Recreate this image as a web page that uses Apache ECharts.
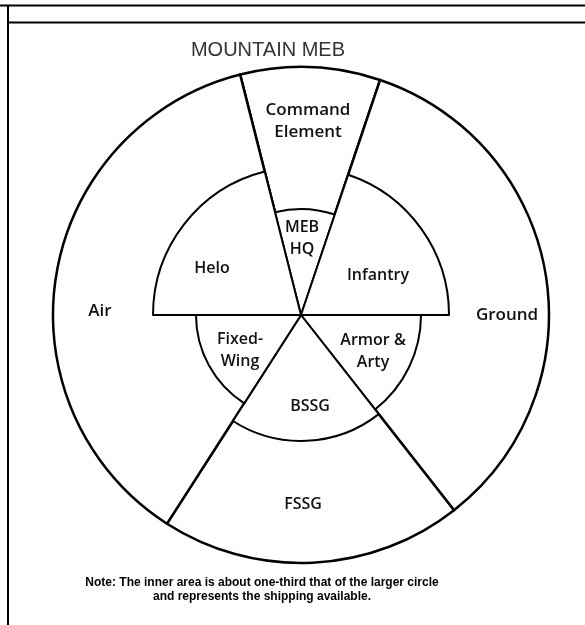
<!DOCTYPE html>
<html>
<head>
<meta charset="utf-8">
<script src="https://cdn.jsdelivr.net/npm/echarts@6/dist/echarts.min.js"></script>
<style>
  html, body { margin: 0; padding: 0; background: #fff; }
  #main { width: 585px; height: 625px; }
</style>
</head>
<body>
<div id="main"></div>
<script>
// outer ring: sector angles in degrees, clockwise from the left edge of the command wedge
var outerNames = ['Command Element', 'Ground', 'FSSG', 'Air'];
var outerAngles = [32.8, 123.3, 70.8, 133.1];

// inner area ("shipping available"): angles and radius (px) of each piece
var innerNames = ['MEB HQ', 'Infantry', 'Armor & Arty', 'BSSG', 'Fixed-Wing', 'Helo'];
var innerAngles = [32.8, 71.4, 51.9, 70.8, 57.3, 75.8];
var innerRadii = [106, 148, 120, 126, 105, 148];

var titleText = 'MOUNTAIN MEB';
var noteText = 'Note: The inner area is about one-third that of the larger circle\nand represents the shipping available.';

// layout
var hub = [301, 315];
var outerRadius = 248;
var startAngle = 104.2;

var labelText = {
  'Command Element': 'Command\nElement',
  'MEB HQ': 'MEB\nHQ',
  'Armor & Arty': 'Armor &\nArty',
  'Fixed-Wing': 'Fixed-\nWing'
};
var labelAt = {
  'Command Element': [308, 121],
  'Ground': [507, 315],
  'FSSG': [303, 504],
  'Air': [100, 311],
  'MEB HQ': [302, 238],
  'Infantry': [378, 275],
  'Armor & Arty': [373, 351],
  'BSSG': [310, 406],
  'Fixed-Wing': [240, 350],
  'Helo': [212, 268]
};
var bigLabels = { 'Command Element': 1, 'Ground': 1, 'Air': 1 };

var font = '"Open Sans", "DejaVu Sans", sans-serif';

function labelStyle(name) {
  return {
    show: true,
    position: 'inside',
    formatter: labelText[name] || name,
    color: '#111',
    fontFamily: font,
    fontWeight: 600,
    fontSize: bigLabels[name] ? 17 : 16,
    lineHeight: 22
  };
}

function layoutFor(names) {
  return function (p) {
    var at = labelAt[names[p.dataIndex]];
    return { x: at[0], y: at[1], align: 'center', verticalAlign: 'middle', hideOverlap: false };
  };
}

var series = [];

series.push({
  type: 'pie',
  center: hub,
  radius: [0, outerRadius],
  startAngle: startAngle,
  clockwise: true,
  silent: true,
  avoidLabelOverlap: false,
  labelLine: { show: false },
  z: 1,
  data: outerNames.map(function (n, i) {
    return {
      name: n,
      value: outerAngles[i],
      itemStyle: { color: '#fff', borderColor: '#000', borderWidth: 2.5 },
      label: labelStyle(n)
    };
  }),
  labelLayout: layoutFor(outerNames)
});

innerNames.forEach(function (name, k) {
  series.push({
    type: 'pie',
    center: hub,
    radius: [0, innerRadii[k]],
    startAngle: startAngle,
    clockwise: true,
    silent: true,
    avoidLabelOverlap: false,
    labelLine: { show: false },
    z: 2 + k,
    data: innerNames.map(function (n, j) {
      var on = j === k;
      return {
        name: n,
        value: innerAngles[j],
        itemStyle: on
          ? { color: '#fff', borderColor: '#000', borderWidth: 2 }
          : { color: 'rgba(0,0,0,0)', borderWidth: 0 },
        label: on ? labelStyle(n) : { show: false }
      };
    }),
    labelLayout: layoutFor(innerNames)
  });
});

var chart = echarts.init(document.getElementById('main'));
chart.setOption({
  animation: false,
  backgroundColor: '#fff',
  title: [
    {
      text: titleText,
      left: 263,
      top: 34,
      textAlign: 'center',
      textStyle: { fontFamily: '"Liberation Sans", Arial, sans-serif', fontWeight: 'normal', fontSize: 20, lineHeight: 22, color: '#333' }
    },
    {
      text: noteText,
      left: 257,
      top: 571,
      textAlign: 'center',
      textStyle: { fontFamily: '"Liberation Sans", Arial, sans-serif', fontWeight: 'bold', fontSize: 12, lineHeight: 14, color: '#000' }
    }
  ],
  graphic: [
    { type: 'line', shape: { x1: 0, y1: 5.5, x2: 585, y2: 5.5 }, style: { stroke: '#000', lineWidth: 2 } },
    { type: 'line', shape: { x1: 8, y1: 5, x2: 8, y2: 625 }, style: { stroke: '#000', lineWidth: 2 } },
    { type: 'line', shape: { x1: 8, y1: 22.5, x2: 585, y2: 22.5 }, style: { stroke: '#000', lineWidth: 2 } }
  ],
  series: series
});
</script>
</body>
</html>
